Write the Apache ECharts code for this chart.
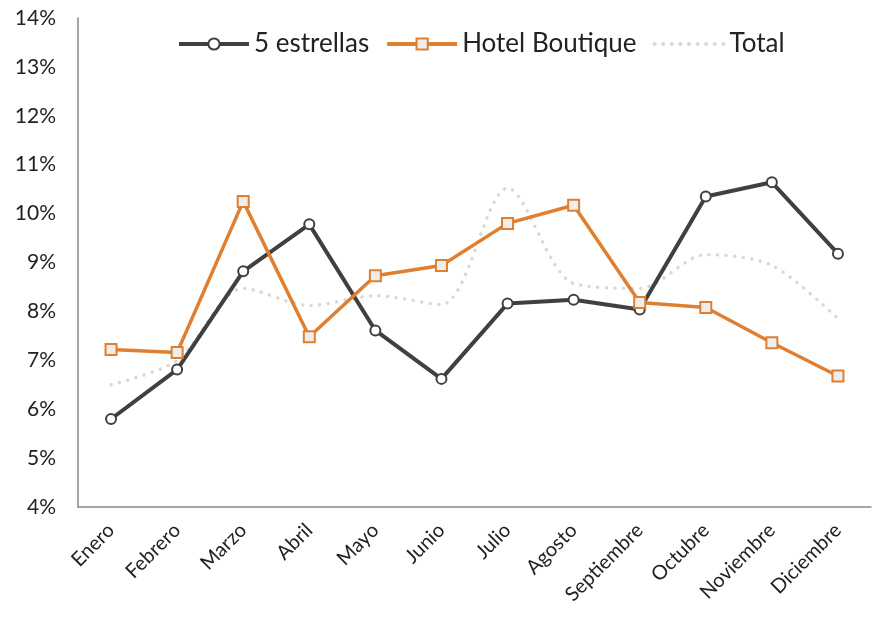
<!DOCTYPE html>
<html><head><meta charset="utf-8">
<script src="https://cdn.jsdelivr.net/npm/echarts@6/dist/echarts.min.js"></script>
<style>html,body{margin:0;padding:0;background:#fff}#c{width:877px;height:617px}</style>
</head><body><div id="c"></div>
<script>
const categories = ['Enero','Febrero','Marzo','Abril','Mayo','Junio','Julio','Agosto','Septiembre','Octubre','Noviembre','Diciembre'];
const cincoEstrellas = [5.80, 6.81, 8.82, 9.78, 7.61, 6.62, 8.16, 8.24, 8.04, 10.35, 10.64, 9.18];
const hotelBoutique = [7.22, 7.16, 10.25, 7.48, 8.73, 8.94, 9.80, 10.17, 8.18, 8.08, 7.36, 6.68];
const total = [6.50, 7.00, 8.47, 8.12, 8.32, 8.14, 10.52, 8.57, 8.47, 9.16, 8.94, 7.85];
const yTicks = [4,5,6,7,8,9,10,11,12,13,14];

const chart = echarts.init(document.getElementById('c'));
const font = 'Lato';
chart.setOption({
  animation: false,
  textStyle: {fontFamily: font},
  legend: {
    top: 26, left: 172,
    itemWidth: 70, itemHeight: 14, itemGap: 16,
    textStyle: {fontSize: 26, color: '#222', fontFamily: font},
    data: [
      {name: '5 estrellas', lineStyle: {width: 4}},
      {name: 'Hotel Boutique', lineStyle: {width: 4}},
      {name: 'Total', itemStyle: {opacity: 0}, lineStyle: {width: 4}}
    ]
  },
  grid: {left: 78, right: 6, top: 18, bottom: 110, containLabel: false},
  xAxis: {
    type: 'category', data: categories, boundaryGap: true,
    axisLine: {lineStyle: {color: '#888', width: 1.5}},
    axisTick: {show: false},
    axisLabel: {rotate: 45, fontSize: 20, color: '#222', margin: 20, interval: 0, fontFamily: font}
  },
  yAxis: {
    type: 'value', min: yTicks[0], max: yTicks[yTicks.length-1], interval: 1,
    axisLine: {show: true, lineStyle: {color: '#888', width: 1.5}},
    axisTick: {show: false},
    splitLine: {show: false},
    axisLabel: {formatter: v => v + '%', fontSize: 21, color: '#222', margin: 22, fontFamily: font}
  },
  series: [
    {
      name: '5 estrellas', type: 'line', data: cincoEstrellas,
      symbol: 'circle', symbolSize: 10,
      lineStyle: {color: '#404040', width: 4},
      itemStyle: {color: '#fff', borderColor: '#404040', borderWidth: 2},
      z: 3
    },
    {
      name: 'Hotel Boutique', type: 'line', data: hotelBoutique,
      symbol: 'rect', symbolSize: 11,
      lineStyle: {color: '#E07F30', width: 3.5},
      itemStyle: {color: '#eeeeee', borderColor: '#E07F30', borderWidth: 2},
      z: 4
    },
    {
      name: 'Total', type: 'line', data: total, smooth: 0.3,
      symbol: 'none', showSymbol: false,
      lineStyle: {color: '#d9d9d9', width: 3.5, type: [0.1, 8.5], cap: 'round'},
      itemStyle: {color: '#d9d9d9'},
      z: 2
    }
  ]
});
</script></body></html>
